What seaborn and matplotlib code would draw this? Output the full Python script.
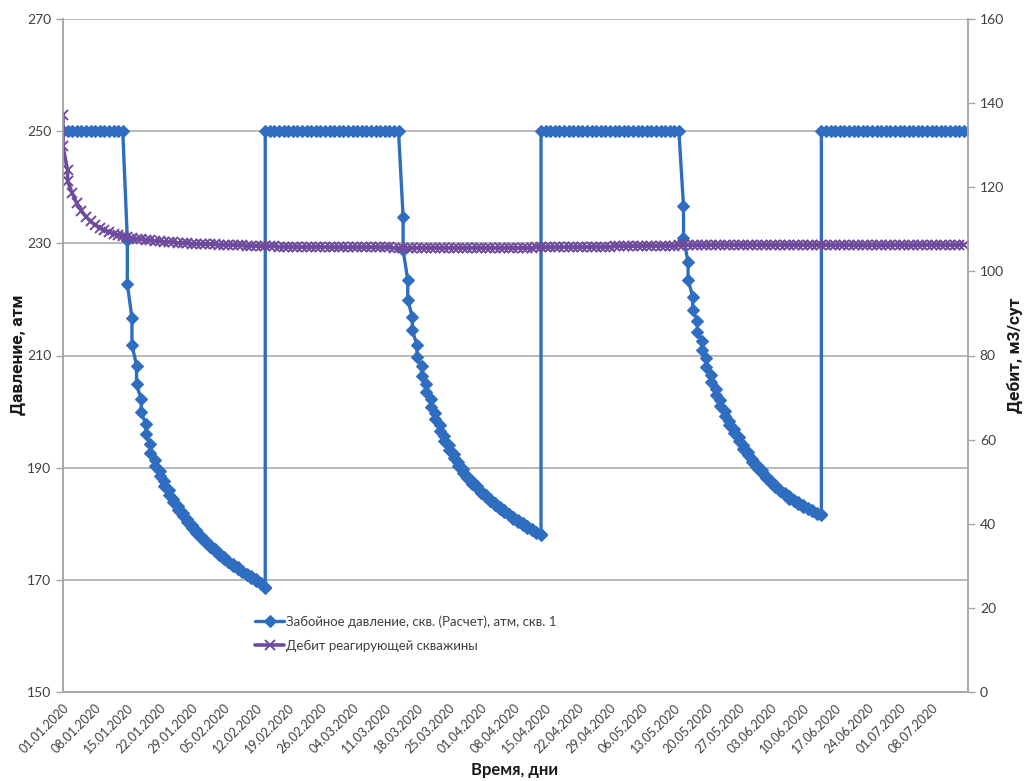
import matplotlib
matplotlib.use("Agg")
import matplotlib.pyplot as plt
import seaborn as sns
import pandas as pd

# ---------------- data ----------------
tick_labels = ["01.01.2020", "08.01.2020", "15.01.2020", "22.01.2020", "29.01.2020",
               "05.02.2020", "12.02.2020", "19.02.2020", "26.02.2020", "04.03.2020",
               "11.03.2020", "18.03.2020", "25.03.2020", "01.04.2020", "08.04.2020",
               "15.04.2020", "22.04.2020", "29.04.2020", "06.05.2020", "13.05.2020",
               "20.05.2020", "27.05.2020", "03.06.2020", "10.06.2020", "17.06.2020",
               "24.06.2020", "01.07.2020", "08.07.2020"]

# bottom-hole pressure, atm: flat periods (one value per day)
flat_level = 250.0
flat_periods = [(0, 13), (44, 73), (104, 134), (165, 196)]   # day ranges (inclusive)

# drawdown periods: two values per day (day start .. day end)
dd1_days = (14, 44)
dd1 = [230.6, 222.7, 216.7, 211.9, 208.2, 204.9, 202.2, 199.9, 197.8, 196.0,
       194.2, 192.7, 191.3, 190.3, 189.4, 188.5, 187.6, 186.8, 186.0, 185.2,
       184.5, 183.8, 183.1, 182.5, 181.9, 181.3, 180.8, 180.3, 179.8, 179.3,
       178.8, 178.4, 177.9, 177.5, 177.1, 176.7, 176.3, 175.9, 175.5, 175.1,
       174.7, 174.4, 174.0, 173.7, 173.4, 173.1, 172.8, 172.5, 172.2, 171.9,
       171.6, 171.4, 171.1, 170.9, 170.6, 170.4, 170.1, 169.8, 169.5, 169.2,
       168.8, 168.5]
dd2_days = (74, 104)
dd2 = [234.7, 228.8, 223.5, 219.9, 216.9, 214.5, 211.9, 209.8, 208.1, 206.4,
       204.9, 203.5, 202.2, 200.9, 199.8, 198.6, 197.6, 196.6, 195.7, 194.8,
       194.0, 193.2, 192.4, 191.7, 191.0, 190.3, 189.7, 189.1, 188.6, 188.1,
       187.6, 187.1, 186.7, 186.3, 185.9, 185.5, 185.1, 184.7, 184.4, 184.0,
       183.7, 183.3, 183.0, 182.7, 182.4, 182.1, 181.8, 181.5, 181.2, 180.9,
       180.6, 180.3, 180.1, 179.8, 179.6, 179.3, 179.1, 178.8, 178.6, 178.3,
       178.2, 178.0]
dd3_days = (135, 165)
dd3 = [236.7, 231.0, 226.6, 223.5, 220.5, 218.1, 216.2, 214.2, 212.5, 211.0,
       209.5, 208.0, 206.6, 205.3, 204.1, 203.0, 202.0, 201.0, 200.1, 199.2,
       198.4, 197.6, 196.9, 196.1, 195.4, 194.7, 194.1, 193.4, 192.8, 192.2,
       191.6, 191.0, 190.5, 190.0, 189.5, 189.0, 188.6, 188.1, 187.7, 187.3,
       186.9, 186.5, 186.1, 185.8, 185.5, 185.1, 184.9, 184.5, 184.3, 184.0,
       183.8, 183.5, 183.3, 183.0, 182.8, 182.6, 182.4, 182.2, 182.0, 181.8,
       181.7, 181.5]

# flow rate of the responding well, m3/day (days 0 and 1 have two values)
rate_days = [0, 0, 1, 1] + list(range(2, 197))
rate = [137.2, 129.7, 124.0, 121.5,
        118.6, 116.2, 114.4, 113.0, 111.9, 111.0, 110.3, 109.8, 109.4, 109.0,
        108.7, 108.4, 108.2, 108.0, 107.8, 107.7, 107.5, 107.4, 107.3,
        107.2, 107.1, 107.0, 106.9, 106.8, 106.8, 106.7, 106.6, 106.6, 106.5,
        106.5, 106.4, 106.4, 106.3, 106.3, 106.3, 106.2, 106.2, 106.2, 106.1,
        106.1, 106.1, 106.0, 106.0, 106.0, 106.0, 105.9, 105.9, 105.9, 105.9,
        105.9, 105.8, 105.8, 105.8, 105.8, 105.8, 105.8, 105.7, 105.7, 105.7,
        105.7, 105.7, 105.7, 105.7, 105.7, 105.7, 105.7, 105.7, 105.7, 105.7,
        105.7, 105.6, 105.6, 105.6, 105.6, 105.6, 105.6, 105.6, 105.6, 105.6,
        105.6, 105.6, 105.6, 105.6, 105.6, 105.6, 105.6, 105.6, 105.6, 105.6,
        105.6, 105.6, 105.6, 105.6, 105.6, 105.6, 105.6, 105.6, 105.6, 105.6,
        105.6, 105.6, 105.7, 105.7, 105.7, 105.7, 105.7, 105.7, 105.8, 105.8,
        105.8, 105.8, 105.8, 105.8, 105.9, 105.9, 105.9, 105.9, 105.9, 106.0,
        106.0, 106.0, 106.0, 106.0, 106.0, 106.1, 106.1, 106.1, 106.1, 106.1,
        106.1, 106.1, 106.1, 106.2, 106.2, 106.2, 106.2, 106.2, 106.2, 106.2,
        106.2, 106.2, 106.3, 106.3, 106.3, 106.3, 106.3, 106.3, 106.3, 106.3,
        106.3, 106.3, 106.3, 106.3, 106.3, 106.3, 106.3, 106.3, 106.3, 106.3,
        106.3, 106.3, 106.3, 106.3, 106.3, 106.2, 106.2, 106.2, 106.2, 106.2,
        106.2, 106.2, 106.2, 106.2, 106.2, 106.2, 106.2, 106.2, 106.2, 106.2,
        106.2, 106.2, 106.2, 106.2, 106.2, 106.3, 106.3, 106.3, 106.3, 106.3,
        106.3, 106.3, 106.3, 106.3, 106.3, 106.3]

label_p = "Забойное давление, скв. (Расчет), атм, скв. 1"
label_q = "Дебит реагирующей скважины"

# ---------------- assemble pressure series in time order ----------------
segments = [
    ("flat", flat_periods[0], None),
    ("dd", dd1_days, dd1),
    ("flat", flat_periods[1], None),
    ("dd", dd2_days, dd2),
    ("flat", flat_periods[2], None),
    ("dd", dd3_days, dd3),
    ("flat", flat_periods[3], None),
]
p_days, p_vals = [], []
for kind, (a, b), vals in segments:
    if kind == "flat":
        for d in range(a, b + 1):
            p_days.append(d)
            p_vals.append(flat_level)
    else:
        days = [d for d in range(a, b + 1) for _ in range(2)]
        assert len(days) == len(vals)
        p_days += days
        p_vals += vals

assert len(rate_days) == len(rate)
df_p = pd.DataFrame({"day": p_days, "p": p_vals})
df_q = pd.DataFrame({"day": rate_days, "q": rate})

# ---------------- style ----------------
sns.set_style("white")
plt.rcParams["font.family"] = ["Lato", "Open Sans", "DejaVu Sans"]

blue = "#2F6DC0"
purple = "#6F4B9E"
grid_c = "#A6A6A6"
text_c = "#404040"
narrow = ["Liberation Sans Narrow", "Roboto", "DejaVu Sans"]

fig = plt.figure(figsize=(10.25, 7.81), dpi=100)
ax = fig.add_axes([63 / 1025, 1 - 692 / 781, (968 - 63) / 1025, (692 - 19) / 781])
ax2 = ax.twinx()

sns.lineplot(data=df_p, x="day", y="p", ax=ax, estimator=None, sort=False,
             color=blue, linewidth=2.4, marker="D", markersize=6.5,
             markeredgecolor=blue, markeredgewidth=0.8, label=label_p, legend=False)
sns.lineplot(data=df_q, x="day", y="q", ax=ax2, estimator=None, sort=False,
             color=purple, linewidth=2.6, marker="x", markersize=7,
             markeredgecolor=purple, markeredgewidth=1.4, label=label_q, legend=False)

ax.set_xlim(0, 196.9)
ax.set_ylim(150, 270)
ax2.set_ylim(0, 160)
ax.set_yticks(range(150, 271, 20))
ax2.set_yticks(range(0, 161, 20))
ax.set_xticks(range(0, 7 * len(tick_labels), 7))
ax.set_xticklabels(tick_labels, rotation=45, ha="right", rotation_mode="anchor",
                   fontsize=9, color=text_c)

ax.yaxis.grid(True, color=grid_c, linewidth=1.1)
ax.xaxis.grid(False)
ax2.grid(False)
ax.set_axisbelow(True)

for a in (ax, ax2):
    a.spines["top"].set_visible(False)
    for s in ("left", "right", "bottom"):
        a.spines[s].set_color(grid_c)
        a.spines[s].set_linewidth(1.1)
    a.tick_params(axis="both", length=5, width=1, color=grid_c, labelsize=10,
                  labelcolor=text_c, direction="out")
ax.tick_params(axis="x", pad=2, labelsize=9)

ax.set_xlabel("Время, дни", fontsize=12, fontweight="bold", color="#1a1a1a", va="center")
ax.xaxis.set_label_coords((515 - 63) / 905, (692 - 770) / 673)
ax.set_ylabel("Давление, атм", fontsize=12.5, fontweight="bold", color="#1a1a1a",
              family=narrow, va="center")
ax.yaxis.set_label_coords((18 - 63) / 905, (692 - 355) / 673)
ax2.set_ylabel("Дебит, м3/сут", fontsize=12.5, fontweight="bold", color="#1a1a1a",
               family=narrow, rotation=90, va="center")
ax2.yaxis.set_label_coords((1015 - 63) / 905, (692 - 355) / 673)

h1, l1 = ax.get_legend_handles_labels()
h2, l2 = ax2.get_legend_handles_labels()
leg = ax2.legend(h1 + h2, l1 + l2, loc="upper left",
                 bbox_to_anchor=(250 / 1025, 1 - 610 / 781), bbox_transform=fig.transFigure,
                 frameon=False, fontsize=9.5, handlelength=2.2, handletextpad=0.1,
                 labelspacing=0.9, borderaxespad=0)
for t in leg.get_texts():
    t.set_color(text_c)

fig.savefig("out.png", dpi=100, facecolor="white")
